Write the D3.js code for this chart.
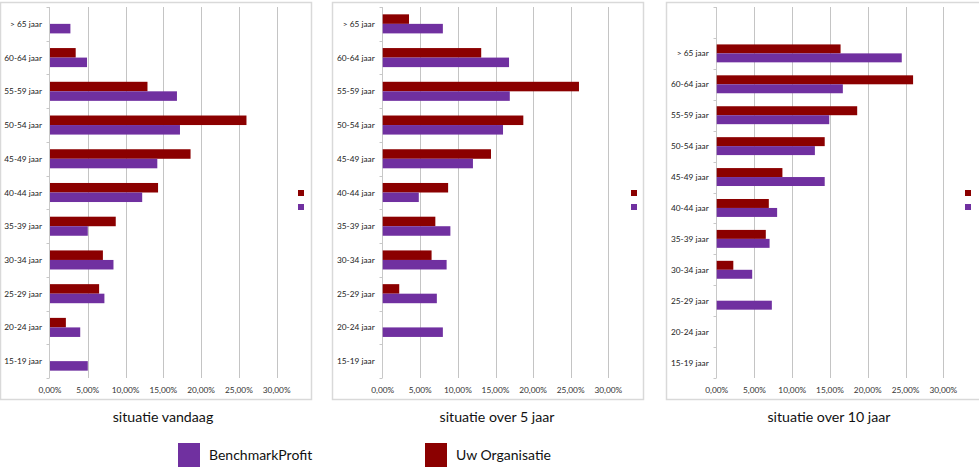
<!DOCTYPE html>
<html><head><meta charset="utf-8">
<script src="https://cdn.jsdelivr.net/npm/d3@7/dist/d3.min.js"></script>
<style>
html,body{margin:0;padding:0;background:#fff;}
svg{display:block;}
</style></head>
<body>
<svg id="c" width="979" height="475"></svg>
<script>
// ---- data ----
const categories = ["> 65 jaar","60-64 jaar","55-59 jaar","50-54 jaar","45-49 jaar","40-44 jaar","35-39 jaar","30-34 jaar","25-29 jaar","20-24 jaar","15-19 jaar"];
const categories10 = ["", "> 65 jaar","60-64 jaar","55-59 jaar","50-54 jaar","45-49 jaar","40-44 jaar","35-39 jaar","30-34 jaar","25-29 jaar","20-24 jaar","15-19 jaar"];
const seriesNames = ["Uw Organisatie","BenchmarkProfit"];
const vandaagUw    = [0, 3.4, 12.9, 26.0, 18.6, 14.3, 8.7, 7.0, 6.5, 2.1, 0];
const vandaagBench = [2.7, 4.9, 16.8, 17.2, 14.2, 12.2, 5.0, 8.4, 7.2, 4.0, 5.0];
const over5Uw      = [3.5, 13.1, 26.1, 18.7, 14.4, 8.7, 7.0, 6.5, 2.2, 0, 0];
const over5Bench   = [8.0, 16.8, 16.9, 16.0, 12.0, 4.8, 9.0, 8.5, 7.2, 8.0, 0];
const over10Uw     = [null, 16.4, 26.0, 18.6, 14.3, 8.7, 6.9, 6.5, 2.2, 0, 0, 0];
const over10Bench  = [null, 24.5, 16.7, 14.9, 13.0, 14.3, 8.0, 7.0, 4.7, 7.3, 0, 0];
const xTicks = [0, 5, 10, 15, 20, 25, 30];
const titles = ["situatie vandaag", "situatie over 5 jaar", "situatie over 10 jaar"];

const colors = {"Uw Organisatie":"#8B0000", "BenchmarkProfit":"#7030A0"};

const panels = [
  {cats: categories,   uw: vandaagUw, bench: vandaagBench, title: titles[0],
   frame:[0,2,311,397], x0:50, x1:276.7, top:7, bottom:378, pad:0.435, legX:298, titleX:163},
  {cats: categories,   uw: over5Uw, bench: over5Bench, title: titles[1],
   frame:[332,2,311,397], x0:382.7, x1:608.3, top:7, bottom:378, pad:0.435, legX:631, titleX:497},
  {cats: categories10, uw: over10Uw, bench: over10Bench, title: titles[2],
   frame:[666,2,320,397], x0:716.7, x1:943.3, top:7, bottom:378, pad:0.42, legX:965, titleX:829}
];

const svg = d3.select("#c");
const fmt = v => d3.format(".2f")(v).replace(".", ",") + "%";
const labelFont = "Lato, 'Open Sans', sans-serif";

panels.forEach(p => {
  const g = svg.append("g");
  g.append("rect").attr("x", p.frame[0]+0.5).attr("y", p.frame[1]+0.5)
    .attr("width", p.frame[2]).attr("height", p.frame[3])
    .attr("fill", "#fff").attr("stroke", "#d9d9d9").attr("stroke-width", 1.5);

  const x = d3.scaleLinear().domain([0, 30]).range([p.x0, p.x1]);
  const y = d3.scaleBand().domain(p.cats.map((c,i)=>i)).range([p.top, p.bottom])
    .paddingInner(p.pad).paddingOuter(p.pad/2);
  const ySub = d3.scaleBand().domain(seriesNames).range([0, y.bandwidth()]);

  // gridlines
  g.selectAll(".grid").data(xTicks.slice(1)).join("line")
    .attr("x1", d=>Math.round(x(d))+0.5).attr("x2", d=>Math.round(x(d))+0.5)
    .attr("y1", p.top).attr("y2", p.bottom)
    .attr("stroke", "#c4c4c4").attr("stroke-width", 1);

  // x tick labels
  g.selectAll(".xt").data(xTicks).join("text")
    .attr("x", d=>x(d)).attr("y", 393)
    .attr("text-anchor", "middle")
    .attr("font-family", labelFont).attr("font-size", 8.3).attr("fill", "#333")
    .text(d=>fmt(d));

  // y axis line + ticks at category boundaries
  g.append("line").attr("x1", Math.round(p.x0)-0.5).attr("x2", Math.round(p.x0)-0.5)
    .attr("y1", p.top).attr("y2", p.bottom).attr("stroke", "#c8c8c8");
  const step = y.step();
  const bounds = d3.range(p.cats.length + 1).map(i => p.top + i*step);
  g.selectAll(".yt").data(bounds).join("line")
    .attr("x1", Math.round(p.x0)-3.5).attr("x2", Math.round(p.x0)-0.5)
    .attr("y1", d=>Math.round(d)+0.5).attr("y2", d=>Math.round(d)+0.5)
    .attr("stroke", "#c8c8c8");

  // y labels
  g.selectAll(".yl").data(p.cats).join("text")
    .attr("x", p.x0 - 8).attr("y", (d,i)=> y(i) + y.bandwidth()/2 + 3)
    .attr("text-anchor", "end")
    .attr("font-family", labelFont).attr("font-size", 8.3).attr("fill", "#222")
    .text(d=>d);

  // bars
  const rows = p.cats.map((c,i)=>({i, vals:[{s:"Uw Organisatie", v:p.uw[i]}, {s:"BenchmarkProfit", v:p.bench[i]}]}));
  const rg = g.selectAll(".row").data(rows).join("g")
    .attr("transform", d=>`translate(0,${y(d.i)})`);
  rg.selectAll("rect").data(d=>d.vals.filter(v=>v.v)).join("rect")
    .attr("x", x(0)).attr("y", d=>ySub(d.s))
    .attr("width", d=>x(d.v)-x(0)).attr("height", ySub.bandwidth())
    .attr("fill", d=>colors[d.s]);

  // remnant legend squares
  g.selectAll(".lg").data(seriesNames).join("rect")
    .attr("x", p.legX).attr("y", (d,i)=> 190 + i*14)
    .attr("width", 6).attr("height", 6)
    .attr("fill", d=>colors[d]);

  // title
  g.append("text").attr("x", p.titleX).attr("y", 422)
    .attr("text-anchor", "middle")
    .attr("font-family", labelFont).attr("font-size", 14.2).attr("fill", "#111")
    .text(p.title);
});

// bottom legend
const legendItems = [{s:"BenchmarkProfit", x:178}, {s:"Uw Organisatie", x:425}];
const lg = svg.selectAll(".bl").data(legendItems).join("g")
  .attr("transform", d=>`translate(${d.x},443)`);
lg.append("rect").attr("width", 22).attr("height", 24).attr("fill", d=>colors[d.s]);
lg.append("text").attr("x", 31).attr("y", 17)
  .attr("font-family", labelFont).attr("font-size", 14).attr("fill", "#111")
  .text(d=>d.s);
</script>
</body></html>
